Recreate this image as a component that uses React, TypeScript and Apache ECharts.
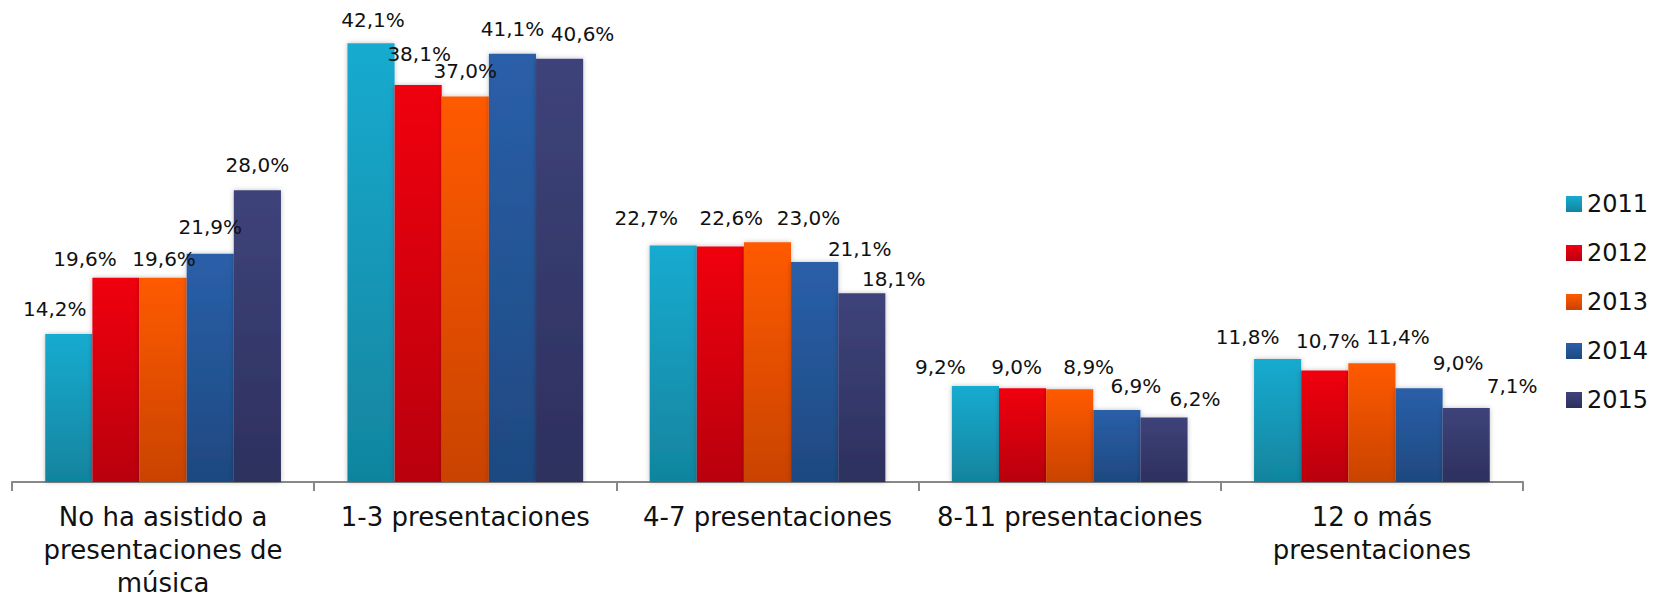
import React, { useEffect, useRef } from "react";
import * as echarts from "echarts";

const categories = [
  "No ha asistido a\npresentaciones de\nmúsica",
  "1-3 presentaciones",
  "4-7 presentaciones",
  "8-11 presentaciones",
  "12 o más\npresentaciones",
];
const years = ["2011", "2012", "2013", "2014", "2015"];
const v2011 = [14.2, 42.1, 22.7, 9.2, 11.8];
const v2012 = [19.6, 38.1, 22.6, 9.0, 10.7];
const v2013 = [19.6, 37.0, 23.0, 8.9, 11.4];
const v2014 = [21.9, 41.1, 21.1, 6.9, 9.0];
const v2015 = [28.0, 40.6, 18.1, 6.2, 7.1];
const seriesValues = [v2011, v2012, v2013, v2014, v2015];

// label nudges [dx, dy] per series (year) and category, as placed in the original
const labelNudge: [number, number][][] = [
  [[-14, 0], [2, 2], [-27, -2], [-35, 6], [-30, 3]],
  [[-31, 6], [1, -6], [11, -3], [-6, 4], [3, -4]],
  [[1, 6], [0, 0], [41, 1], [19, 3], [26, -1]],
  [[0, -2], [0, 0], [45, 12], [19, 1], [39, 0]],
  [[0, 0], [23, 0], [32, 11], [31, 7], [46, 3]],
];

const gradients: [string, string][] = [
  ["#18ABD0", "#11849E"],
  ["#F00010", "#B90010"],
  ["#FF5A00", "#C94300"],
  ["#2A5FA9", "#1E4980"],
  ["#3E437A", "#2D305E"],
];

const FONT = "DejaVu Sans";

export default function App() {
  const ref = useRef<HTMLDivElement>(null);
  useEffect(() => {
    document.body.style.margin = "0";
    if (!ref.current) return;
    const chart = echarts.init(ref.current, null, { renderer: "svg" });
    chart.setOption({
      animation: false,
      backgroundColor: "#ffffff",
      grid: { left: 12, right: 144, top: 13, bottom: 117, containLabel: false },
      legend: {
        orient: "vertical",
        left: 1561,
        top: 187,
        itemWidth: 16,
        itemHeight: 16,
        itemGap: 25,
        icon: "rect",
        textStyle: { fontFamily: FONT, fontSize: 24, lineHeight: 24, color: "#111" },
        data: years,
      },
      xAxis: {
        type: "category",
        data: categories,
        axisLine: { show: true, lineStyle: { color: "#888888", width: 2 } },
        axisTick: { show: true, length: 9, lineStyle: { color: "#888888", width: 2 } },
        axisLabel: {
          fontFamily: FONT,
          fontSize: 26,
          lineHeight: 33,
          color: "#111",
          margin: 18,
          interval: 0,
        },
      },
      yAxis: {
        type: "value",
        min: 0,
        max: 45,
        show: false,
        splitLine: { show: false },
      },
      series: years.map((y, i) => ({
        name: y,
        type: "bar",
        data: seriesValues[i].map((v, k) => ({
          value: v,
          label: { offset: labelNudge[i][k] },
        })),
        barGap: "0%",
        barCategoryGap: "22%",
        itemStyle: {
          color: new echarts.graphic.LinearGradient(0, 0, 0, 1, [
            { offset: 0, color: gradients[i][0] },
            { offset: 1, color: gradients[i][1] },
          ]),
          shadowBlur: 5,
          shadowColor: "rgba(0,0,0,0.25)",
        },
        label: {
          show: true,
          position: "top",
          distance: 15,
          fontFamily: FONT,
          fontSize: 20,
          color: "#111",
          formatter: (p: any) => p.value.toFixed(1).replace(".", ",") + "%",
        },
      })),
    });
    return () => chart.dispose();
  }, []);
  return <div ref={ref} style={{ width: 1667, height: 599 }} />;
}
